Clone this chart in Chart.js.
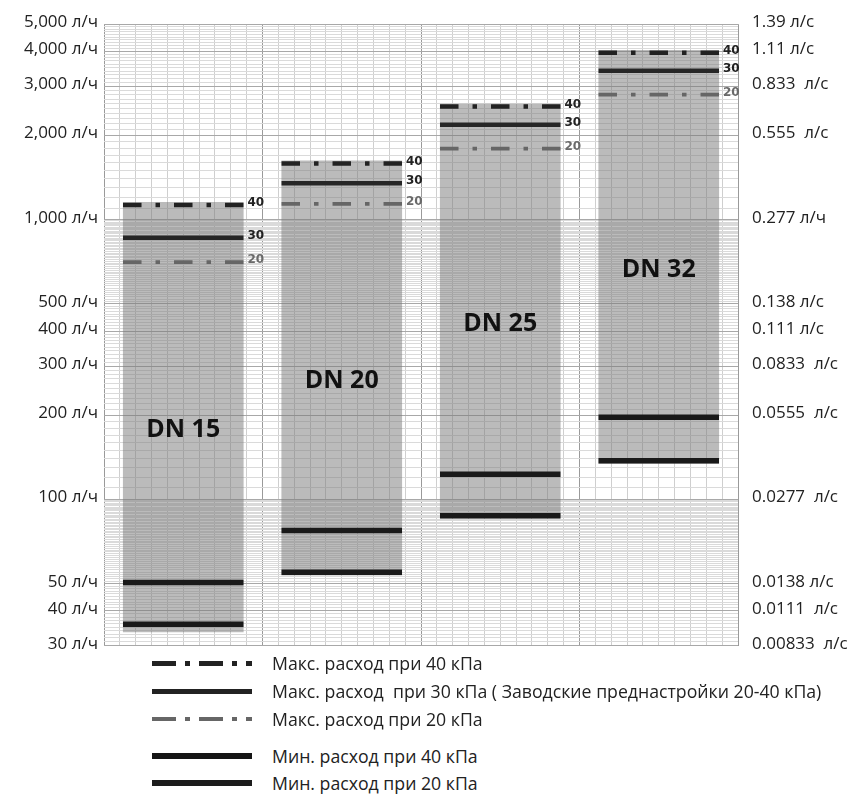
<!DOCTYPE html>
<html>
<head>
<meta charset="utf-8">
<script src="https://cdn.jsdelivr.net/npm/chart.js@4.4.0/dist/chart.umd.min.js"></script>
<style>
  body { margin: 0; background: #fff; width: 848px; height: 795px; overflow: hidden; position: relative;
         font-family: "Open Sans", sans-serif; color: #222; }
  #wrap { position: absolute; left: 0; top: 0; width: 848px; height: 670px; }
  .row { position: absolute; left: 0; height: 24px; width: 848px; }
  .sample { position: absolute; left: 152px; width: 100px; }
  .txt { position: absolute; left: 272px; top: 0; line-height: 24px; font-size: 17.7px; white-space: pre; }
</style>
</head>
<body>
<div id="wrap"><canvas id="chart"></canvas></div>
<div id="legend"></div>
<script>
// ---- data (л/ч) ----
const categories = ["DN 15", "DN 20", "DN 25", "DN 32"];
const barLow  = [33.6, 53.6, 85.8, 134.5];
const barHigh = [1155, 1625, 2590, 4030];

const max40 = [1130, 1590, 2540, 3950];
const max30 = [862, 1350, 2185, 3410];
const max20 = [705, 1140, 1795, 2800];
const min40 = [50.5, 77.5, 123, 197];
const min20 = [35.8, 55, 87.5, 137.5];

const pressureTags = ["40", "30", "20"];

// axis ticks, ascending
const leftTicks  = [30, 40, 50, 100, 200, 300, 400, 500, 1000, 2000, 3000, 4000, 5000];
const leftLabels = ["30 л/ч", "40 л/ч", "50 л/ч", "100 л/ч", "200 л/ч", "300 л/ч", "400 л/ч",
                    "500 л/ч", "1,000 л/ч", "2,000 л/ч", "3,000 л/ч", "4,000 л/ч", "5,000 л/ч"];
const rightLabels = ["0.00833  л/с", "0.0111  л/с", "0.0138 л/с", "0.0277  л/с", "0.0555  л/с",
                     "0.0833  л/с", "0.111 л/с", "0.138 л/с", "0.277 л/ч", "0.555  л/с",
                     "0.833  л/с", "1.11 л/с", "1.39 л/с"];

const legendLabels = [
  "Макс. расход при 40 кПа",
  "Макс. расход  при 30 кПа ( Заводские преднастройки 20-40 кПа)",
  "Макс. расход при 20 кПа",
  "Мин. расход при 40 кПа",
  "Мин. расход при 20 кПа",
];

// ---- log-paper grid: every 0.1 of the mantissa in each decade ----
const gridValues = [];
for (const p of [1, 10, 100]) {
  for (let m = 10; m < 100; m++) {
    const v = m * p;
    if (v >= 30 && v <= 5000) gridValues.push(v);
  }
}

const HALF = 0.38;   // half bar width, in column units
const BAR_PX = 120;
const DASHDOT = [18.5, 14, 4.5, 14];

// each value becomes a short horizontal segment across its bar
function segments(values) {
  const pts = [];
  values.forEach((v, i) => {
    pts.push({ x: i - HALF, y: v }, { x: i + HALF, y: v }, { x: i + HALF, y: null });
  });
  return pts;
}

function lineSet(label, values, color, width, dash) {
  return {
    type: "line", label, data: segments(values), xAxisID: "x", yAxisID: "y",
    borderColor: color, borderWidth: width, borderDash: dash || [],
    borderCapStyle: "butt", pointRadius: 0, tension: 0, order: 0,
  };
}

function tickVal(c) {
  return c && c.tick ? c.tick.value : null;
}

// "40 / 30 / 20" tags and DN names
const textPlugin = {
  id: "texts",
  afterDatasetsDraw(chart) {
    const ctx = chart.ctx;
    const y = chart.scales.y, x = chart.scales.x;
    const groups = [max40, max30, max20];
    const colors = ["#222", "#222", "#6a6a6a"];
    ctx.save();
    ctx.font = "bold 12px 'DejaVu Sans'";
    ctx.textBaseline = "middle";
    ctx.textAlign = "left";
    categories.forEach((c, i) => {
      groups.forEach((g, k) => {
        ctx.fillStyle = colors[k];
        ctx.fillText(pressureTags[k], x.getPixelForValue(i + HALF) + 4, y.getPixelForValue(g[i]) - 2);
      });
    });
    const bars = chart.getDatasetMeta(chart.data.datasets.length - 1).data;
    ctx.font = "bold 25px 'Open Sans'";
    ctx.fillStyle = "#111";
    ctx.textAlign = "center";
    bars.forEach((b, i) => {
      ctx.fillText(categories[i], b.x, (b.y + b.base) / 2 + 13);
    });
    ctx.restore();
  },
};

new Chart(document.getElementById("chart"), {
  type: "bar",
  data: {
    datasets: [
      lineSet(legendLabels[0], max40, "#222", 4.5, DASHDOT),
      lineSet(legendLabels[1], max30, "#262626", 4.5),
      lineSet(legendLabels[2], max20, "#666", 3.8, DASHDOT),
      lineSet(legendLabels[3], min40, "#1a1a1a", 5.5),
      lineSet(legendLabels[4], min20, "#1a1a1a", 5.5),
      {
        label: "range",
        data: barLow.map((lo, i) => ({ x: i, y: [lo, barHigh[i]] })),
        backgroundColor: "rgba(120,120,120,0.5)", borderWidth: 0,
        barThickness: BAR_PX, grouped: false,
        xAxisID: "x", yAxisID: "y", order: 1,
      },
    ],
  },
  options: {
    responsive: true,
    maintainAspectRatio: false,
    animation: false,
    layout: { padding: { top: 23, bottom: 3, left: 0, right: 0 } },
    plugins: { legend: { display: false }, tooltip: { enabled: false } },
    scales: {
      x: {
        type: "linear", position: "bottom", min: -0.5, max: 3.5, offset: false,
        ticks: { display: false },
        afterBuildTicks: (s) => {
          const t = [];
          for (let k = 0; k <= 40; k++) t.push({ value: -0.5 + k / 10 });
          s.ticks = t;
        },
        grid: {
          offset: false,
          drawTicks: false,
          color: (c) => {
            const v = tickVal(c);
            return v !== null && (Math.round(v * 10) + 5) % 10 === 0 ? "#9a9a9a" : "#cfcfcf";
          },
          lineWidth: 1,
        },
        border: { display: false },
      },
      y: {
        type: "logarithmic", position: "left", min: 30, max: 5000,
        afterBuildTicks: (s) => { s.ticks = gridValues.map((v) => ({ value: v })); },
        afterFit: (s) => { s.width = 104; },
        ticks: {
          autoSkip: false, padding: 6, color: "#222", labelOffset: -2,
          font: { family: "'Open Sans'", size: 17 },
          callback: (v) => { const k = leftTicks.indexOf(v); return k >= 0 ? leftLabels[k] : ""; },
        },
        grid: {
          drawTicks: false,
          color: (c) => leftTicks.includes(tickVal(c)) ? "#a8a8a8" : "#dadada",
          lineWidth: 1,
        },
        border: { display: false },
      },
      y2: {
        type: "logarithmic", position: "right", min: 30, max: 5000,
        afterBuildTicks: (s) => { s.ticks = leftTicks.map((v) => ({ value: v })); },
        afterFit: (s) => { s.width = 110; },
        ticks: {
          autoSkip: false, padding: 14, color: "#222", labelOffset: -2,
          font: { family: "'Open Sans'", size: 17 },
          callback: (v, i) => rightLabels[i],
        },
        grid: { display: false, drawTicks: false },
        border: { display: false },
      },
    },
  },
  plugins: [textPlugin],
});

// ---- legend below the plot ----
const legendRowsY = [663, 691, 719, 756, 783];
const legendSamples = [
  { h: 5, bg: "repeating-linear-gradient(to right,#222 0 24px,transparent 24px 33px,#222 33px 38px,transparent 38px 47px)" },
  { h: 5, bg: "#222" },
  { h: 4, bg: "repeating-linear-gradient(to right,#666 0 24px,transparent 24px 33px,#666 33px 38px,transparent 38px 47px)" },
  { h: 6, bg: "#151515" },
  { h: 6, bg: "#1c1c1c" },
];
const legend = document.getElementById("legend");
legendLabels.forEach((txt, i) => {
  const row = document.createElement("div");
  row.className = "row";
  row.style.top = (legendRowsY[i] - 12) + "px";
  const s = document.createElement("div");
  s.className = "sample";
  s.style.height = legendSamples[i].h + "px";
  s.style.top = (12 - legendSamples[i].h / 2) + "px";
  s.style.background = legendSamples[i].bg;
  const t = document.createElement("div");
  t.className = "txt";
  t.textContent = txt;
  row.appendChild(s);
  row.appendChild(t);
  legend.appendChild(row);
});
</script>
</body>
</html>
